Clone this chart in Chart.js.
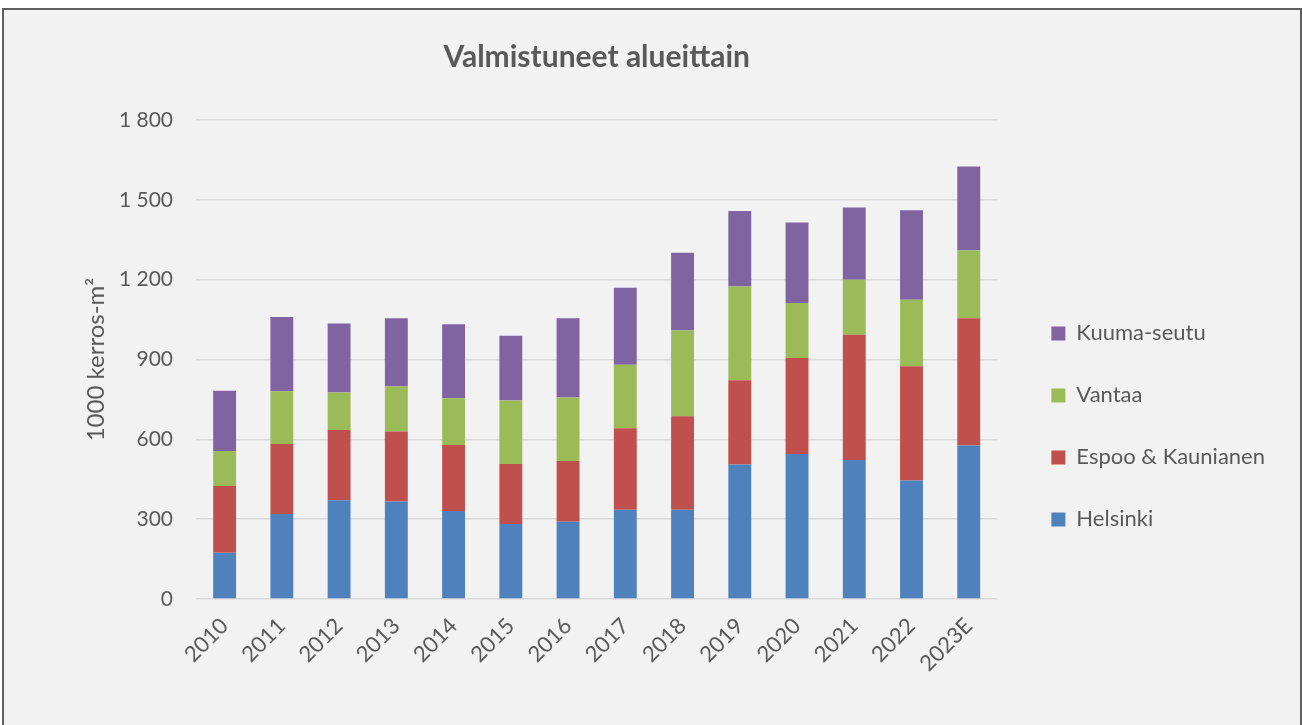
<!DOCTYPE html>
<html>
<head>
<meta charset="utf-8">
<script src="https://cdn.jsdelivr.net/npm/chart.js@4.4.1/dist/chart.umd.min.js"></script>
<style>
  html, body { margin: 0; padding: 0; background: #ffffff; overflow: hidden; }
  #frame { position: absolute; left: 2px; top: 8px; width: 1300px; height: 740px; box-sizing: border-box;
           border: 2px solid #5f5f5f; background: #f2f2f2; }
  #chart { position: absolute; left: 0; top: 0; }
</style>
</head>
<body>
<div id="frame"></div>
<canvas id="chart" width="1302" height="725"></canvas>
<script>
// data (1000 kerros-m2)
const years = ['2010', '2011', '2012', '2013', '2014', '2015', '2016', '2017', '2018', '2019', '2020', '2021', '2022', '2023E'];
const helsinki = [174, 319, 371, 366, 331, 282, 290, 335, 335, 505, 545, 522, 445, 577];
const espoo    = [251, 263, 264, 263, 248, 225, 229, 307, 352, 317, 361, 471, 430, 478];
const vantaa   = [131, 199, 141, 170, 175, 239, 238, 238, 322, 352, 206, 207, 250, 255];
const kuuma    = [227, 279, 259, 256, 278, 243, 298, 290, 292, 284, 303, 271, 336, 315];
const yTicks = [0, 300, 600, 900, 1200, 1500, 1800];

const textColor = '#595959';
const fontFamily = 'Lato, "Liberation Sans", sans-serif';

function spaced(v) {
  return String(v).replace(/\B(?=(\d{3})+(?!\d))/g, ' ');
}

const ctx = document.getElementById('chart');
new Chart(ctx, {
  type: 'bar',
  data: {
    labels: years,
    datasets: [
      { label: 'Helsinki', data: helsinki, backgroundColor: '#4f81bd' },
      { label: 'Espoo & Kaunianen', data: espoo, backgroundColor: '#c0504d' },
      { label: 'Vantaa', data: vantaa, backgroundColor: '#9bbb59' },
      { label: 'Kuuma-seutu', data: kuuma, backgroundColor: '#8064a2' }
    ]
  },
  options: {
    responsive: false,
    animation: false,
    categoryPercentage: 1,
    barPercentage: 0.4,
    layout: { padding: { left: 0, right: 27, top: 0, bottom: 0 } },
    scales: {
      x: {
        stacked: true,
        grid: { display: false, drawTicks: false },
        border: { display: false },
        ticks: {
          color: textColor,
          font: { family: fontFamily, size: 22 },
          minRotation: 45,
          maxRotation: 45,
          padding: 14
        },
        afterFit: (s) => { s.height = 126; }
      },
      y: {
        stacked: true,
        min: 0,
        max: 1800,
        afterBuildTicks: (s) => { s.ticks = yTicks.map(v => ({ value: v })); },
        grid: { color: '#d9d9d9', lineWidth: 1.5, drawTicks: false },
        border: { display: false },
        ticks: {
          color: textColor,
          font: { family: fontFamily, size: 21 },
          padding: 23,
          callback: (v) => spaced(v)
        },
        title: {
          display: true,
          text: '1000 kerros-m²',
          color: textColor,
          font: { family: fontFamily, size: 24 },
          padding: { top: 82, bottom: 0 }
        },
        afterFit: (s) => { s.width = 196; }
      },
      gap: {
        position: 'right',
        display: true,
        grid: { display: false, drawTicks: false },
        border: { display: false },
        ticks: { display: false },
        afterFit: (s) => { s.width = 14; }
      }
    },
    plugins: {
      title: {
        display: true,
        text: 'Valmistuneet alueittain',
        color: textColor,
        fullSize: false,
        font: { family: fontFamily, size: 30, weight: 'bold' },
        padding: { top: 39, bottom: 45 }
      },
      legend: {
        position: 'right',
        align: 'start',
        fullSize: false,
        reverse: true,
        maxWidth: 292,
        title: { display: true, text: '', font: { size: 12 }, padding: { top: 148, bottom: 0 } },
        labels: {
          color: textColor,
          font: { family: fontFamily, size: 22 },
          boxWidth: 14,
          boxHeight: 14,
          padding: 40
        }
      },
      tooltip: { enabled: false }
    }
  }
});
</script>
</body>
</html>
